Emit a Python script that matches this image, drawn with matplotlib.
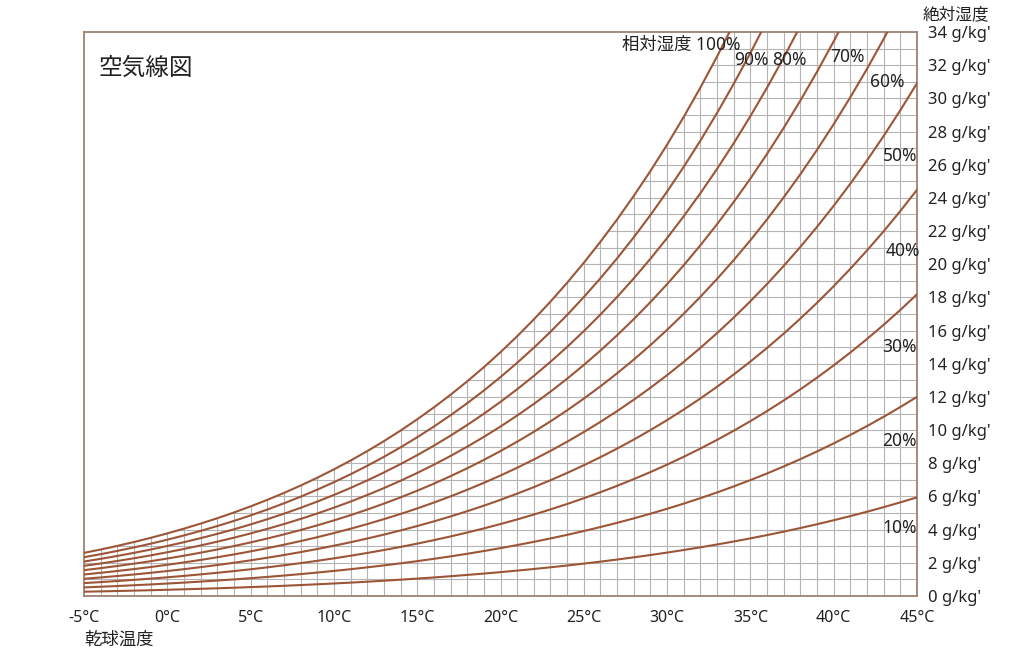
import numpy as np
import matplotlib
matplotlib.use('Agg')
from matplotlib import pyplot as plt
from matplotlib.patches import Polygon

plt.rcParams['font.family'] = ['Noto Sans', 'Noto Sans CJK JP', 'DejaVu Sans']

# dry bulb temperature (degC) and saturation vapour pressure (kPa)
temps = list(range(-5, 46))
p_sat = [0.4217, 0.4546, 0.4898, 0.5275, 0.5677, 0.6112, 0.6571, 0.7060,
         0.7581, 0.8135, 0.8726, 0.9354, 1.0021, 1.0730, 1.1483, 1.2282,
         1.3129, 1.4028, 1.4981, 1.5989, 1.7057, 1.8188, 1.9383, 2.0647,
         2.1982, 2.3392, 2.4881, 2.6452, 2.8109, 2.9856, 3.1697, 3.3637,
         3.5679, 3.7828, 4.0089, 4.2467, 4.4966, 4.7592, 5.0351, 5.3247,
         5.6286, 5.9475, 6.2819, 6.6324, 6.9997, 7.3844, 7.7873, 8.2090,
         8.6503, 9.1118, 9.5944]
rh_levels = [10, 20, 30, 40, 50, 60, 70, 80, 90, 100]
p_atm = 101.325

x_ticks = list(range(-5, 46, 5))
y_ticks = list(range(0, 35, 2))

# label text, x, y, horizontal alignment
rh_labels = [
    ('相対湿度 100%', 34.4, 33.2, 'right'),
    ('90%', 34.0, 32.3, 'left'),
    ('80%', 36.3, 32.3, 'left'),
    ('70%', 39.8, 32.5, 'left'),
    ('60%', 42.2, 31.0, 'left'),
    ('50%', 45.0, 26.5, 'right'),
    ('40%', 45.2, 20.8, 'right'),
    ('30%', 45.0, 15.0, 'right'),
    ('20%', 45.0, 9.35, 'right'),
    ('10%', 45.0, 4.1, 'right'),
]

curve_color = '#9c5537'
frame_color = '#9c8272'


def abs_humidity(rh):
    p = np.array(p_sat) * rh / 100.0
    return 622.0 * p / (p_atm - p)


fig = plt.figure(figsize=(10.24, 6.54), dpi=100)
ax = fig.add_axes([84 / 1024, 1 - 596 / 654, 833 / 1024, 564 / 654])
ax.set_xlim(-5, 45)
ax.set_ylim(0, 34)

t = np.array(temps)
sat = abs_humidity(100)

# grid only below the saturation curve
verts = [(-5, 0)] + list(zip(t, sat)) + [(45, 0)]
clip = Polygon(verts, closed=True, transform=ax.transData,
               facecolor='none', edgecolor='none')
ax.add_patch(clip)
vl = ax.vlines(np.arange(-4, 45), 0, 34, colors='#b4b4b4', linewidth=0.8,
               zorder=1)
hl = ax.hlines(np.arange(1, 34), -5, 45, colors='#b4b4b4', linewidth=0.8,
               zorder=1)
vl.set_clip_path(clip)
hl.set_clip_path(clip)

for rh in rh_levels:
    ax.plot(t, abs_humidity(rh), color=curve_color, linewidth=1.5, zorder=3)

for text, x, y, ha in rh_labels:
    ax.text(x, y, text, ha=ha, va='center', fontsize=12.5, color='#222222',
            zorder=4)

for s in ax.spines.values():
    s.set_color(frame_color)
    s.set_linewidth(1.3)

ax.set_xticks(x_ticks)
ax.set_xticklabels(['%d°C' % v for v in x_ticks])
ax.yaxis.tick_right()
ax.set_yticks(y_ticks)
ax.set_yticklabels(["%d g/kg'" % v for v in y_ticks])
ax.tick_params(axis='both', length=0, colors='#222222')
ax.tick_params(axis='x', pad=10, labelsize=11.5)
ax.tick_params(axis='y', pad=8, labelsize=12)

ax.text(0.017, 0.935, '空気線図', transform=ax.transAxes, fontsize=17,
        ha='left', va='center', color='#222222')
fig.text(84 / 1024, 1 - 640 / 654, '乾球温度', fontsize=12.5, ha='left',
         va='center', color='#222222')
fig.text(956 / 1024, 1 - 15 / 654, '絶対湿度', fontsize=12, ha='center',
         va='center', color='#222222')

fig.savefig('out.png', dpi=100, facecolor='white')
